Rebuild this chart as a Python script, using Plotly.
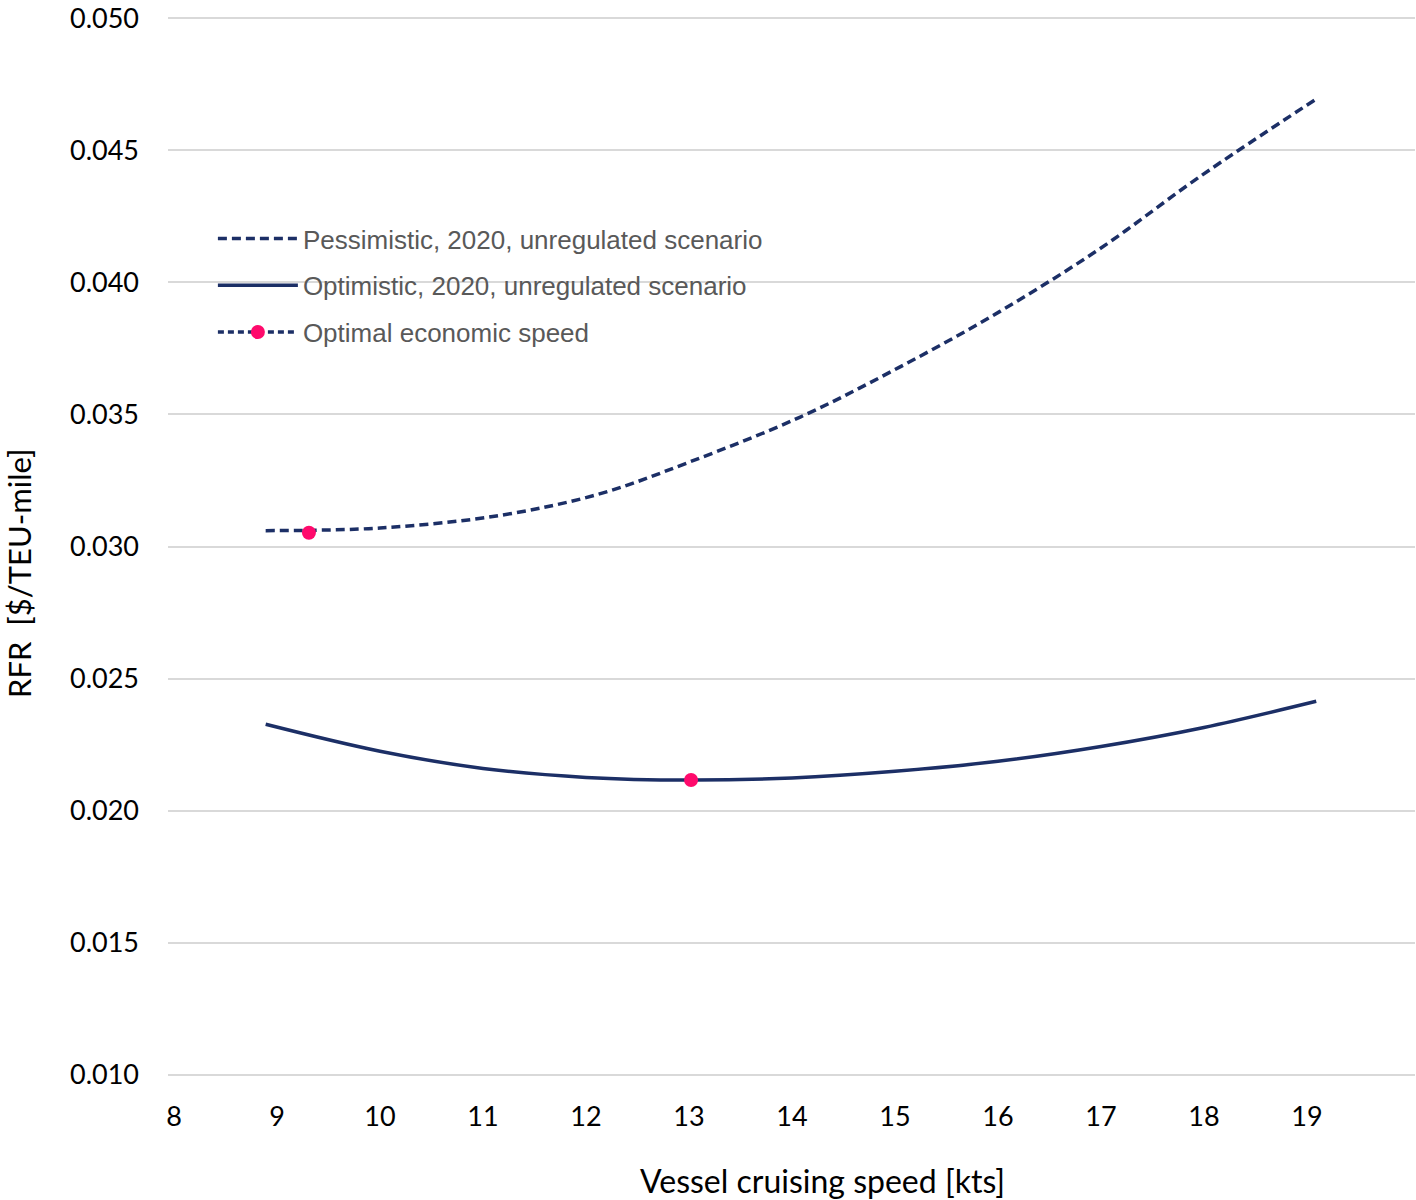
import plotly.graph_objects as go

# Data
speed_pess = [8.89, 10.0, 11.17, 12.14, 13.0, 14.08, 15.05, 16.02, 17.0, 17.96, 19.09]
rfr_pess = [0.03060, 0.03070, 0.03118, 0.03200, 0.03319, 0.03490, 0.03680, 0.03890, 0.04130, 0.04400, 0.04694]

speed_opt = [8.89, 10.0, 11.0, 12.0, 13.0, 14.0, 15.0, 16.0, 17.0, 18.0, 19.09]
rfr_opt = [0.02327, 0.02225, 0.02160, 0.02126, 0.02116, 0.02124, 0.02149, 0.02187, 0.02243, 0.02315, 0.02414]

opt_speed = [9.31, None, 13.02]
opt_rfr = [0.03052, None, 0.02116]

x_ticks = [8, 9, 10, 11, 12, 13, 14, 15, 16, 17, 18, 19]
y_ticks = [0.010, 0.015, 0.020, 0.025, 0.030, 0.035, 0.040, 0.045, 0.050]

navy = "#1c2f66"
pink = "#ff0a6c"

fig = go.Figure()
fig.add_trace(go.Scatter(x=speed_pess, y=rfr_pess, mode="lines", line=dict(color=navy, width=3.5, dash="9px,5px", shape="spline"),
                         name="Pessimistic, 2020, unregulated scenario", legendgroup="a"))
fig.add_trace(go.Scatter(x=speed_opt, y=rfr_opt, mode="lines", line=dict(color=navy, width=3.5, shape="spline"),
                         name="Optimistic, 2020, unregulated scenario", legendgroup="b"))
fig.add_trace(go.Scatter(x=opt_speed, y=opt_rfr, mode="lines+markers", connectgaps=False,
                         line=dict(color=navy, width=3.5, dash="6px,4px"),
                         marker=dict(color=pink, size=14, line=dict(width=0)),
                         name="Optimal economic speed", legendgroup="c"))

fig.update_layout(
    width=1416, height=1200,
    margin=dict(l=168, r=1, t=16, b=123),
    paper_bgcolor="white", plot_bgcolor="white",
    font=dict(family="Lato", size=27, color="black"),
    showlegend=True,
    legend=dict(x=0.036, y=0.8124, xanchor="left", yanchor="top", bgcolor="rgba(0,0,0,0)",
                font=dict(family="Liberation Sans", size=26, color="#595959"),
                traceorder="grouped", tracegroupgap=10, itemwidth=80),
    xaxis=dict(range=[7.9417, 20.049], tickvals=x_ticks, ticktext=[str(v) for v in x_ticks],
               showgrid=False, zeroline=False, showline=False, ticks="", ticklabelstandoff=21,
               automargin=False),
    yaxis=dict(range=[0.00992, 0.05008], tickvals=y_ticks, ticktext=[f"{v:.3f}" for v in y_ticks],
               showgrid=True, gridcolor="#d9d9d9", gridwidth=2, zeroline=False, showline=False,
               ticks="", ticklabelstandoff=28, automargin=False, ticklabeloverflow="allow"),
    annotations=[
        dict(text="Vessel cruising speed [kts]", xref="paper", yref="paper", x=0.5245, y=-0.0971,
             xanchor="center", yanchor="middle", showarrow=False, font=dict(family="Lato", size=32, color="black")),
        dict(text="RFR  [$/TEU-mile]", xref="paper", yref="paper", x=-0.1195, y=0.475, textangle=-90,
             xanchor="center", yanchor="middle", showarrow=False, font=dict(family="Lato", size=31, color="black")),
    ],
)

fig.write_html("out.html", config={"displayModeBar": False},
               post_script="document.body.style.margin='0';")
